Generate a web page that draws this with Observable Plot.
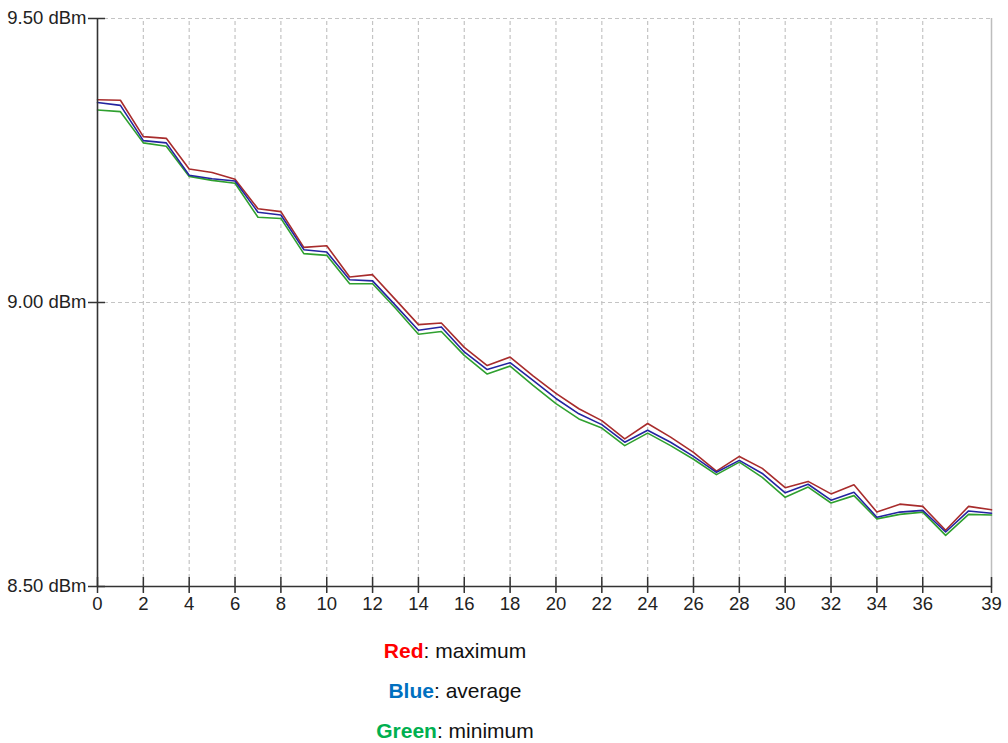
<!DOCTYPE html>
<html>
<head>
<meta charset="utf-8">
<script src="https://cdn.jsdelivr.net/npm/d3@7"></script>
<script src="https://cdn.jsdelivr.net/npm/@observablehq/plot@0.6"></script>
<style>
  html, body { margin: 0; padding: 0; background: #fff; }
  body { width: 1008px; height: 743px; overflow: hidden; font-family: "Liberation Sans", Arial, sans-serif; }
  #legend { padding-top: 6px; text-align: center; width: 910px; font-size: 21px; color: #111; }
  #legend div { height: 40px; line-height: 40px; }
  #legend b { font-weight: bold; }
</style>
</head>
<body>
<div id="chart"></div>
<div id="legend"></div>
<script>
const xs = d3.range(0, 40);
const maxVals = [9.357, 9.356, 9.292, 9.289, 9.235, 9.229, 9.217, 9.165, 9.160, 9.097,
  9.100, 9.045, 9.049, 9.005, 8.961, 8.964, 8.921, 8.889, 8.904, 8.871,
  8.840, 8.813, 8.792, 8.760, 8.787, 8.763, 8.736, 8.703, 8.729, 8.708,
  8.674, 8.685, 8.663, 8.679, 8.631, 8.645, 8.641, 8.599, 8.641, 8.635];
const avgVals = [9.352, 9.347, 9.285, 9.281, 9.224, 9.218, 9.214, 9.159, 9.154, 9.093,
  9.089, 9.040, 9.038, 8.995, 8.951, 8.957, 8.913, 8.882, 8.894, 8.863,
  8.831, 8.804, 8.785, 8.754, 8.775, 8.754, 8.729, 8.701, 8.722, 8.699,
  8.665, 8.680, 8.652, 8.666, 8.622, 8.631, 8.634, 8.596, 8.633, 8.629];
const minVals = [9.339, 9.336, 9.281, 9.275, 9.222, 9.215, 9.210, 9.150, 9.148, 9.086,
  9.083, 9.033, 9.033, 8.990, 8.944, 8.949, 8.907, 8.874, 8.888, 8.854,
  8.822, 8.795, 8.779, 8.748, 8.770, 8.748, 8.724, 8.697, 8.719, 8.692,
  8.657, 8.675, 8.647, 8.660, 8.619, 8.627, 8.631, 8.590, 8.627, 8.626];
const xTicks = [0, 2, 4, 6, 8, 10, 12, 14, 16, 18, 20, 22, 24, 26, 28, 30, 32, 34, 36, 39];
const yTicks = [8.5, 9.0, 9.5];
const legendItems = [
  {name: "Red", color: "#ff0000", desc: "maximum"},
  {name: "Blue", color: "#0070c0", desc: "average"},
  {name: "Green", color: "#00b050", desc: "minimum"}
];

const toRows = vals => xs.map((x, i) => ({x, y: vals[i]}));
const gridColor = "#c4c4c4";

const chart = Plot.plot({
  width: 1008,
  height: 625,
  marginLeft: 97,
  marginRight: 17,
  marginTop: 18,
  marginBottom: 39,
  style: {fontFamily: "'Liberation Sans', Arial, sans-serif", fontSize: "18.5px", color: "#222", background: "#fff"},
  x: {domain: [0, 39]},
  y: {domain: [8.5, 9.5]},
  marks: [
    Plot.ruleY([9.0, 9.5], {stroke: gridColor, strokeWidth: 1.2, strokeDasharray: "4,3"}),
    Plot.ruleX(xTicks.filter(d => d > 0 && d < 39), {stroke: gridColor, strokeWidth: 1.2, strokeDasharray: "4,3", y1: 8.5, y2: 9.5, insetTop: 6}),
    Plot.ruleX([39], {stroke: "#bdbdbd", strokeWidth: 1.5, y1: 8.5, y2: 9.5, insetTop: 2}),
    Plot.line(toRows(maxVals), {x: "x", y: "y", stroke: "#a82c2c", strokeWidth: 1.6}),
    Plot.line(toRows(minVals), {x: "x", y: "y", stroke: "#2fa02f", strokeWidth: 1.6}),
    Plot.line(toRows(avgVals), {x: "x", y: "y", stroke: "#2424a0", strokeWidth: 1.6}),
    Plot.ruleX([0], {stroke: "#333", strokeWidth: 1.6}),
    Plot.ruleY([8.5], {stroke: "#333", strokeWidth: 1.6}),
    Plot.axisY({ticks: yTicks, tickSize: 17, dx: 8, tickPadding: 2, stroke: "#333", strokeWidth: 1.5,
      tickFormat: d => d.toFixed(2) + " dBm", label: null, fill: "#222"}),
    Plot.axisX({ticks: xTicks, tickSize: 16, dy: -9, tickPadding: 3, stroke: "#333", strokeWidth: 1.5,
      tickFormat: d => String(d), label: null, fill: "#222"})
  ]
});
document.getElementById("chart").appendChild(chart);

const legend = d3.select("#legend");
legendItems.forEach(it => {
  const row = legend.append("div");
  row.append("b").style("color", it.color).text(it.name);
  row.append("span").text(": " + it.desc);
});
</script>
</body>
</html>
